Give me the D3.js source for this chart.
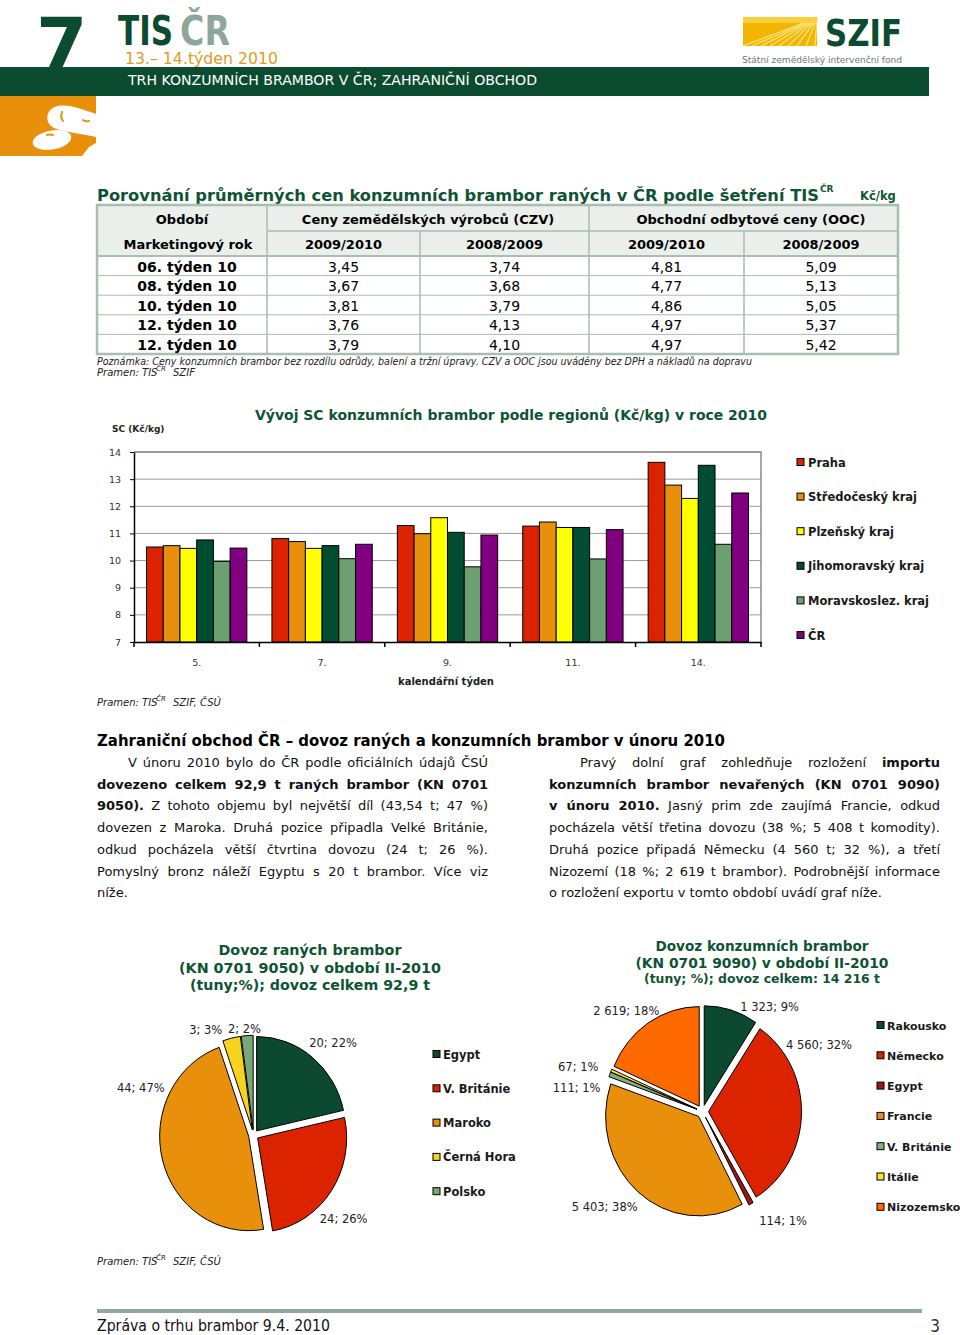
<!DOCTYPE html>
<html>
<head>
<meta charset="utf-8">
<script src="https://cdn.jsdelivr.net/npm/d3@7"></script>
<style>
  body { margin: 0; background: #fff; }
  svg { display: block; font-family: "DejaVu Sans", Verdana, sans-serif; }
</style>
</head>
<body>
<svg id="page"></svg>
<script>
// ---- data: price table
var tableRows = ['06. týden 10', '08. týden 10', '10. týden 10', '12. týden 10', '12. týden 10'];
var czv0910 = [3.45, 3.67, 3.81, 3.76, 3.79];
var czv0809 = [3.74, 3.68, 3.79, 4.13, 4.10];
var ooc0910 = [4.81, 4.77, 4.86, 4.97, 4.97];
var ooc0809 = [5.09, 5.13, 5.05, 5.37, 5.42];

// ---- data: regional prices (Kč/kg)
var weeks = ['5.', '7.', '9.', '11.', '14.'];
var regions = ['Praha', 'Středočeský kraj', 'Plzeňský kraj', 'Jihomoravský kraj', 'Moravskoslez. kraj', 'ČR'];
var praha = [10.50, 10.81, 11.29, 11.27, 13.62];
var stredocesky = [10.55, 10.70, 10.99, 11.42, 12.78];
var plzensky = [10.45, 10.45, 11.58, 11.22, 12.29];
var jihomoravsky = [10.76, 10.55, 11.04, 11.22, 13.51];
var moravskoslezsky = [9.97, 10.07, 9.77, 10.06, 10.60];
var cr = [10.46, 10.60, 10.94, 11.14, 12.49];
var yTicks = [7, 8, 9, 10, 11, 12, 13, 14];

// ---- data: import of early potatoes (t)
var raneCountries = ['Egypt', 'V. Británie', 'Maroko', 'Černá Hora', 'Polsko'];
var raneTons = [20, 24, 44, 3, 2];
var ranePct = [22, 26, 47, 3, 2];

// ---- data: import of ware potatoes (t)
var konzCountries = ['Rakousko', 'Německo', 'Egypt', 'Francie', 'V. Británie', 'Itálie', 'Nizozemsko'];
var konzTons = [1323, 4560, 114, 5403, 111, 67, 2619];
var konzPct = [9, 32, 1, 38, 1, 1, 18];

var green = '#0b4b2f', titleGreen = '#0e5434', orange = '#e8900a';
var locale = d3.formatLocale({ decimal: ',', thousands: '\u00a0', grouping: [3], currency: ['', ''] });
var fmt2 = locale.format('.2f'), fmtInt = locale.format(',d');

var svg = d3.select('#page').attr('width', 960).attr('height', 1335);

function txt(x, y, s, size, opts) {
  opts = opts || {};
  var t = svg.append('text').attr('x', x).attr('y', y).attr('font-size', size)
    .attr('fill', opts.fill || '#000').text(s);
  if (opts.bold) t.attr('font-weight', 'bold');
  if (opts.italic) t.attr('font-style', 'italic');
  if (opts.anchor) t.attr('text-anchor', opts.anchor);
  if (opts.len) t.attr('textLength', opts.len).attr('lengthAdjust', 'spacingAndGlyphs');
  if (opts.family) t.attr('font-family', opts.family);
  return t;
}

// ---------- header
svg.append('rect').attr('x', 0).attr('y', 67).attr('width', 929).attr('height', 29).attr('fill', green);
txt(36, 71, '7', 74, { bold: true, fill: green });
txt(118, 45, 'TIS', 40, { bold: true, fill: green, len: 55, family: '"Liberation Sans Narrow","DejaVu Sans Condensed",sans-serif' });
txt(180, 45, 'ČR', 40, { bold: true, fill: '#8fa69a', len: 50, family: '"Liberation Sans Narrow","DejaVu Sans Condensed",sans-serif' });
txt(125, 64, '13.– 14.týden 2010', 15.5, { fill: '#e39b24', len: 153 });
txt(128, 85, 'TRH KONZUMNÍCH BRAMBOR V ČR; ZAHRANIČNÍ OBCHOD', 14, { fill: '#fff', len: 409 });

var logo = svg.append('g');
logo.append('rect').attr('x', 0).attr('y', 96).attr('width', 96).attr('height', 60).attr('fill', orange);
logo.append('path').attr('fill', '#fff')
  .attr('d', 'M96,114 C84,110 70,104 58,106 C47,108 45,119 50,125 C55,131 72,132 96,137 Z');
logo.append('ellipse').attr('cx', 52).attr('cy', 140).attr('rx', 19.5).attr('ry', 9.5)
  .attr('transform', 'rotate(-10 52 140)').attr('fill', '#fff');
logo.append('path').attr('fill', '#fff').attr('d', 'M82,156 L89,147 L96,143 L96,156 Z');
logo.append('path').attr('fill', 'none').attr('stroke', orange).attr('stroke-width', 2).attr('stroke-linecap', 'round')
  .attr('d', 'M62,112 q-2,5 1,9 M83,120 q3,2 6,1 M47,135 q3,-1 6,0');

// SZIF logo
svg.append('rect').attr('x', 743).attr('y', 17).attr('width', 74).attr('height', 29).attr('fill', '#f3b600');
svg.append('g').selectAll('line').data(d3.range(9)).enter().append('line')
  .attr('x1', 817).attr('y1', 18)
  .attr('x2', function(d) { return 743 + d * 9; }).attr('y2', 46)
  .attr('stroke', '#fde07a').attr('stroke-width', 1.3);
svg.append('rect').attr('x', 743).attr('y', 17).attr('width', 74).attr('height', 6).attr('fill', '#f8cf3a');
txt(825, 46, 'SZIF', 38, { bold: true, fill: green, len: 77 });
txt(742, 63, 'Státní zemědělský intervenční fond', 9, { fill: '#6b7a72', len: 160 });

// ---------- price table
txt(97, 201, 'Porovnání průměrných cen konzumních brambor raných v ČR podle šetření TIS', 15.5, { bold: true, fill: titleGreen, len: 722 });
txt(820, 192, 'ČR', 9, { bold: true, fill: titleGreen });
txt(860, 200, 'Kč/kg', 11.5, { bold: true, fill: titleGreen });

var tCols = [97, 267, 420, 589, 744, 898];
var rowH = 19.6, dataTop = 256;
var line = '#a9bdb1';
var tab = svg.append('g');
tab.append('rect').attr('x', 97).attr('y', 205).attr('width', 801).attr('height', 51).attr('fill', '#eaefec');
tab.selectAll('line.h').data(d3.range(1, 5)).enter().append('line')
  .attr('x1', 97).attr('x2', 898)
  .attr('y1', function(d) { return dataTop + d * rowH; }).attr('y2', function(d) { return dataTop + d * rowH; })
  .attr('stroke', line).attr('stroke-width', 1);
tab.append('line').attr('x1', 267).attr('x2', 898).attr('y1', 231).attr('y2', 231).attr('stroke', line).attr('stroke-width', 1.5);
tab.append('line').attr('x1', 97).attr('x2', 898).attr('y1', dataTop).attr('y2', dataTop).attr('stroke', line).attr('stroke-width', 2);
[[267, 205], [420, 231], [589, 205], [744, 231]].forEach(function(v) {
  tab.append('line').attr('x1', v[0]).attr('x2', v[0]).attr('y1', v[1]).attr('y2', dataTop + 5 * rowH)
    .attr('stroke', line).attr('stroke-width', 1.5);
});
tab.append('rect').attr('x', 97).attr('y', 205).attr('width', 801).attr('height', dataTop + 5 * rowH - 205)
  .attr('fill', 'none').attr('stroke', line).attr('stroke-width', 2.5);

function mid(i) { return (tCols[i] + tCols[i + 1]) / 2; }
txt(182, 224, 'Období', 13, { bold: true, anchor: 'middle' });
txt(428, 224, 'Ceny zemědělských výrobců (CZV)', 13, { bold: true, anchor: 'middle' });
txt(751, 224, 'Obchodní odbytové ceny (OOC)', 13, { bold: true, anchor: 'middle' });
txt(188, 249, 'Marketingový rok', 13, { bold: true, anchor: 'middle' });
['2009/2010', '2008/2009', '2009/2010', '2008/2009'].forEach(function(s, i) {
  txt(mid(i + 1), 249, s, 13, { bold: true, anchor: 'middle' });
});
var tableCols = [czv0910, czv0809, ooc0910, ooc0809];
tableRows.forEach(function(r, j) {
  var y = dataTop + j * rowH + 15.5;
  txt(187, y, r, 14, { bold: true, anchor: 'middle' });
  tableCols.forEach(function(col, i) {
    txt(mid(i + 1), y, fmt2(col[j]), 14, { anchor: 'middle' });
  });
});

txt(97, 365, 'Poznámka: Ceny konzumních brambor bez rozdílu odrůdy, balení a tržní úpravy. CZV a OOC jsou uváděny bez DPH a nákladů na dopravu', 10, { italic: true, fill: '#222', len: 655 });
function pramen(x, y, rest) {
  txt(x, y, 'Pramen: TIS', 10, { italic: true, fill: '#222' });
  txt(x + 59, y - 5, 'ČR', 7, { italic: true, fill: '#222' });
  txt(x + 76, y, rest, 10, { italic: true, fill: '#222' });
}
pramen(97, 376, 'SZIF');

// ---------- bar chart
var bx0 = d3.scaleBand().domain(weeks).range([134, 761]);
var bx1 = d3.scaleBand().domain(regions).range([0, bx0.bandwidth()]).paddingOuter(0.75);
var by = d3.scaleLinear().domain([7, 14]).range([642, 452]);
var series = [praha, stredocesky, plzensky, jihomoravsky, moravskoslezsky, cr];
var barColors = ['#dc2300', '#e8900c', '#ffff00', '#004d33', '#6da071', '#800080'];

var bc = svg.append('g');
bc.selectAll('line.grid').data(yTicks.slice(1)).enter().append('line')
  .attr('x1', 134).attr('x2', 761).attr('y1', by).attr('y2', by)
  .attr('stroke', '#9a9a9a').attr('stroke-width', 1);
bc.append('path').attr('d', 'M134,452H761V642').attr('fill', 'none').attr('stroke', '#8a8a8a').attr('stroke-width', 1.5);

var groups = bc.selectAll('g.week').data(weeks).enter().append('g')
  .attr('transform', function(d) { return 'translate(' + bx0(d) + ',0)'; });
groups.selectAll('rect').data(function(d, i) {
  return regions.map(function(r, k) { return { region: r, value: series[k][i], k: k }; });
}).enter().append('rect')
  .attr('x', function(d) { return bx1(d.region); })
  .attr('width', bx1.bandwidth())
  .attr('y', function(d) { return by(d.value); })
  .attr('height', function(d) { return by(7) - by(d.value); })
  .attr('fill', function(d) { return barColors[d.k]; })
  .attr('stroke', '#000').attr('stroke-width', 1);

var yAxis = bc.append('g').attr('transform', 'translate(134,0)')
  .call(d3.axisLeft(by).tickValues(yTicks).tickFormat(d3.format('d')).tickSize(4).tickSizeOuter(0).tickPadding(9));
var xAxis = bc.append('g').attr('transform', 'translate(0,642)')
  .call(d3.axisBottom(bx0).tickSize(0).tickSizeOuter(0).tickPadding(17));
[yAxis, xAxis].forEach(function(a) {
  a.selectAll('text').attr('font-family', '"DejaVu Sans", sans-serif').attr('font-size', 9.5).attr('fill', '#333');
  a.select('.domain').attr('stroke', '#000').attr('stroke-width', 1.5);
});
bc.selectAll('line.btick').data(weeks.map(function(w) { return bx0(w); }).concat([761])).enter().append('line')
  .attr('x1', function(d) { return d; }).attr('x2', function(d) { return d; })
  .attr('y1', 642).attr('y2', 647).attr('stroke', '#000').attr('stroke-width', 1.5);

txt(255, 420, 'Vývoj SC konzumních brambor podle regionů (Kč/kg) v roce 2010', 14.5, { bold: true, fill: titleGreen, len: 512 });
txt(112, 432, 'SC (Kč/kg)', 9, { bold: true, fill: '#222' });
txt(446, 685, 'kalendářní týden', 10, { bold: true, anchor: 'middle', fill: '#222' });

var bl = svg.append('g').selectAll('g').data(regions).enter().append('g')
  .attr('transform', function(d, i) { return 'translate(797,' + (462 + i * 34.6) + ')'; });
bl.append('rect').attr('x', 0).attr('y', -3.5).attr('width', 7).attr('height', 7)
  .attr('fill', function(d, i) { return barColors[i]; }).attr('stroke', '#000').attr('stroke-width', 1);
bl.append('text').attr('x', 11).attr('y', 4.5).attr('font-size', 11.5).attr('font-weight', 'bold')
  .attr('fill', '#1a1a1a').text(function(d) { return d; });

pramen(97, 706, 'SZIF, ČSÚ');

// ---------- text section
txt(97, 746, 'Zahraniční obchod ČR – dovoz raných a konzumních brambor v únoru 2010', 16, { bold: true, len: 628 });

var leftPara = [
  [['V únoru 2010 bylo do ČR podle oficiálních údajů ČSÚ', 0]],
  [['dovezeno celkem 92,9 t raných brambor (KN 0701', 1]],
  [['9050).', 1], [' Z tohoto objemu byl největší díl (43,54 t; 47 %)', 0]],
  [['dovezen z Maroka. Druhá pozice připadla Velké Británie,', 0]],
  [['odkud pocházela větší čtvrtina dovozu (24 t; 26 %).', 0]],
  [['Pomyslný bronz náleží Egyptu s 20 t brambor. Více viz', 0]],
  [['níže.', 0]]
];
var rightPara = [
  [['Pravý dolní graf zohledňuje rozložení ', 0], ['importu', 1]],
  [['konzumních brambor nevařených (KN 0701 9090)', 1]],
  [['v únoru 2010.', 1], [' Jasný prim zde zaujímá Francie, odkud', 0]],
  [['pocházela větší třetina dovozu (38 %; 5 408 t komodity).', 0]],
  [['Druhá pozice připadá Německu (4 560 t; 32 %), a třetí', 0]],
  [['Nizozemí (18 %; 2 619 t brambor). Podrobnější informace', 0]],
  [['o rozložení exportu v tomto období uvádí graf níže.', 0]]
];
function paragraph(lines, left, right, indent) {
  lines.forEach(function(segs, i) {
    var x = i === 0 ? left + indent : left;
    var t = svg.append('text').attr('x', x).attr('y', 767 + i * 21.7).attr('font-size', 13).attr('fill', '#111');
    segs.forEach(function(s) {
      t.append('tspan').attr('font-weight', s[1] ? 'bold' : 'normal').text(s[0]);
    });
    if (i < lines.length - 1) {
      var w = t.node().getComputedTextLength();
      var n = (t.node().textContent.match(/ /g) || []).length;
      if (n) t.attr('word-spacing', (right - x - w) / n);
    }
  });
}
paragraph(leftPara, 97, 488, 31);
paragraph(rightPara, 549, 940, 31);

// ---------- pies
function drawPie(cfg) {
  var arcs = d3.pie().sort(null).value(function(d) { return d; })(cfg.values);
  var arc = d3.arc().innerRadius(0).outerRadius(cfg.r);
  var g = svg.append('g').attr('transform', 'translate(' + cfg.cx + ',' + cfg.cy + ')');
  var gs = g.append('g').attr('transform', 'scale(1,' + cfg.sy + ')');
  gs.selectAll('path').data(arcs).enter().append('path')
    .attr('d', arc)
    .attr('transform', function(d) {
      var m = (d.startAngle + d.endAngle) / 2;
      return 'translate(' + (Math.sin(m) * cfg.explode) + ',' + (-Math.cos(m) * cfg.explode) + ')';
    })
    .attr('fill', function(d, i) { return cfg.colors[i]; })
    .attr('stroke', '#000').attr('stroke-width', 1).attr('vector-effect', 'non-scaling-stroke');
  g.selectAll('text').data(arcs).enter().append('text')
    .attr('x', function(d, i) {
      var a = (d.startAngle + d.endAngle) / 2 + cfg.shift[i] * Math.PI / 180;
      return Math.sin(a) * cfg.labelR[i];
    })
    .attr('y', function(d, i) {
      var a = (d.startAngle + d.endAngle) / 2 + cfg.shift[i] * Math.PI / 180;
      return -Math.cos(a) * cfg.labelR[i];
    })
    .attr('dy', '0.35em').attr('text-anchor', 'middle').attr('font-size', 11.5).attr('fill', '#222')
    .text(function(d, i) { return fmtInt(cfg.values[i]) + '; ' + cfg.pct[i] + '%'; });

  var lg = svg.append('g').selectAll('g').data(cfg.names).enter().append('g')
    .attr('transform', function(d, i) { return 'translate(' + cfg.lx + ',' + (cfg.ly + i * cfg.lstep) + ')'; });
  lg.append('rect').attr('x', 0).attr('y', -3.5).attr('width', 7).attr('height', 7)
    .attr('fill', function(d, i) { return cfg.colors[i]; }).attr('stroke', '#000').attr('stroke-width', 1);
  lg.append('text').attr('x', 10).attr('y', 4.5).attr('font-size', cfg.lsize).attr('font-weight', 'bold')
    .attr('fill', '#1a1a1a').text(function(d) { return d; });

  cfg.title.forEach(function(s, i) {
    txt(cfg.tx, cfg.ty[i], s[0], s[1], { bold: true, anchor: 'middle', fill: titleGreen, len: s[2] });
  });
}

drawPie({
  values: raneTons, pct: ranePct, names: raneCountries,
  colors: ['#0b4a30', '#dc2300', '#e8900c', '#f7d21e', '#78a878'],
  cx: 253.5, cy: 1135, r: 89, sy: 1.06, explode: 5,
  shift: [2, 9, 37, -11, -1], labelR: [122, 123, 122, 115, 106],
  lx: 433, ly: 1054, lstep: 34.3, lsize: 11.5,
  tx: 310, ty: [955, 973, 990],
  title: [['Dovoz raných  brambor', 14.5, 183], ['(KN 0701 9050) v období II-2010', 14.5, 262], ['(tuny;%); dovoz celkem 92,9 t', 14.5, 240]]
});

drawPie({
  values: konzTons, pct: konzPct, names: konzCountries,
  colors: ['#0b4a30', '#dc2300', '#a31515', '#e8900c', '#80b080', '#ffe033', '#ff6a00'],
  cx: 702.5, cy: 1111.5, r: 93, sy: 1.07, explode: 6,
  shift: [16, -31, -7, 5, -10, -3, -4], labelR: [124, 134, 136, 137, 128, 132, 126],
  lx: 877, ly: 1025, lstep: 30.3, lsize: 11,
  tx: 762, ty: [951, 968, 983],
  title: [['Dovoz  konzumních brambor', 14, 213], ['(KN 0701 9090) v období II-2010', 14, 253], ['(tuny; %); dovoz celkem: 14 216 t', 12.5, 236]]
});

pramen(97, 1265, 'SZIF, ČSÚ');

// ---------- footer
svg.append('rect').attr('x', 97).attr('y', 1309).attr('width', 825).attr('height', 4).attr('fill', '#93a89d');
txt(97, 1331, 'Zpráva o trhu brambor  9.4. 2010', 15, { fill: '#111', len: 233, family: '"DejaVu Sans Condensed","DejaVu Sans",sans-serif' });
txt(940, 1332, '3', 17, { fill: '#333', anchor: 'end', family: '"DejaVu Sans Condensed","DejaVu Sans",sans-serif' });
</script>
</body>
</html>
